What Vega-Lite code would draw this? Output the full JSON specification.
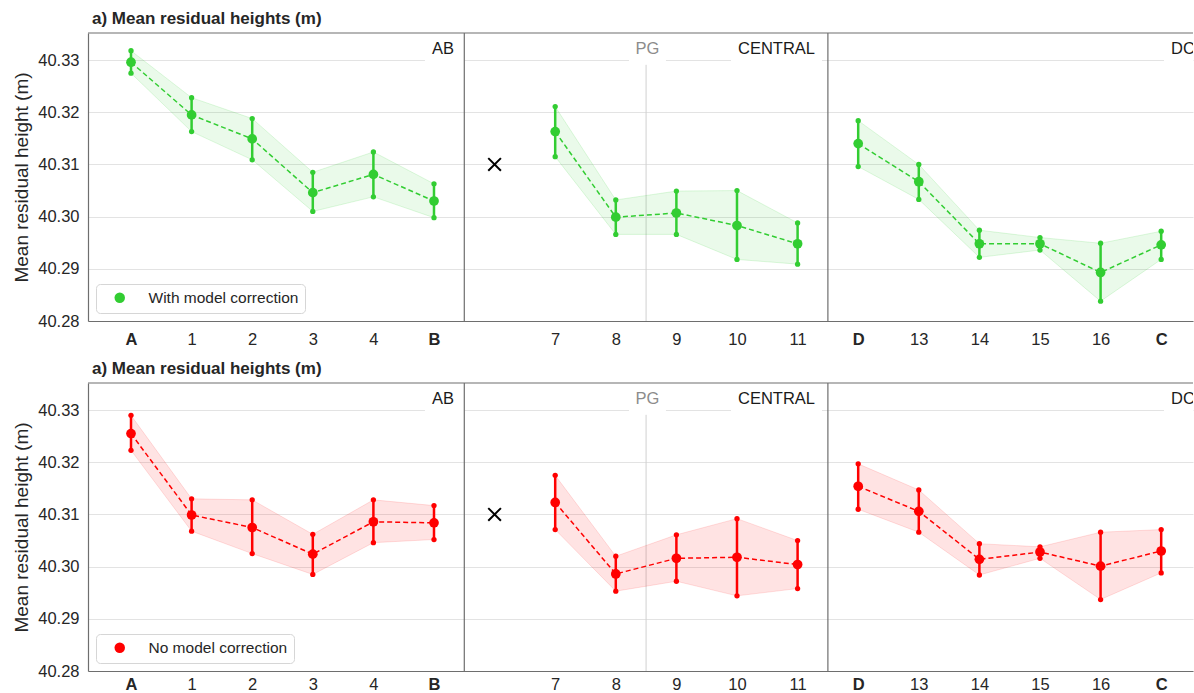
{
  "$schema": "https://vega.github.io/schema/vega-lite/v6.json",
  "autosize": {"type": "pad"},
  "padding": {"left": 12, "top": 10, "right": 0, "bottom": 0},
  "datasets": {
    "pts": [
      {"row": "top", "series": "With model correction", "pos": 0, "station": "A", "seg": "AB", "mean": 40.3296, "lo": 40.3275, "hi": 40.3318},
      {"row": "top", "series": "With model correction", "pos": 1, "station": "1", "seg": "AB", "mean": 40.3195, "lo": 40.3163, "hi": 40.3228},
      {"row": "top", "series": "With model correction", "pos": 2, "station": "2", "seg": "AB", "mean": 40.3149, "lo": 40.3109, "hi": 40.3188},
      {"row": "top", "series": "With model correction", "pos": 3, "station": "3", "seg": "AB", "mean": 40.3046, "lo": 40.3010, "hi": 40.3085},
      {"row": "top", "series": "With model correction", "pos": 4, "station": "4", "seg": "AB", "mean": 40.3081, "lo": 40.3038, "hi": 40.3124},
      {"row": "top", "series": "With model correction", "pos": 5, "station": "B", "seg": "AB", "mean": 40.3030, "lo": 40.2998, "hi": 40.3063},
      {"row": "top", "series": "With model correction", "pos": 7, "station": "7", "seg": "CENTRAL", "mean": 40.3163, "lo": 40.3115, "hi": 40.3211},
      {"row": "top", "series": "With model correction", "pos": 8, "station": "8", "seg": "CENTRAL", "mean": 40.2999, "lo": 40.2966, "hi": 40.3032},
      {"row": "top", "series": "With model correction", "pos": 9, "station": "9", "seg": "CENTRAL", "mean": 40.3007, "lo": 40.2966, "hi": 40.3049},
      {"row": "top", "series": "With model correction", "pos": 10, "station": "10", "seg": "CENTRAL", "mean": 40.2983, "lo": 40.2918, "hi": 40.3050},
      {"row": "top", "series": "With model correction", "pos": 11, "station": "11", "seg": "CENTRAL", "mean": 40.2948, "lo": 40.2909, "hi": 40.2988},
      {"row": "top", "series": "With model correction", "pos": 12, "station": "D", "seg": "DC", "mean": 40.3140, "lo": 40.3096, "hi": 40.3184},
      {"row": "top", "series": "With model correction", "pos": 13, "station": "13", "seg": "DC", "mean": 40.3067, "lo": 40.3033, "hi": 40.3100},
      {"row": "top", "series": "With model correction", "pos": 14, "station": "14", "seg": "DC", "mean": 40.2948, "lo": 40.2922, "hi": 40.2974},
      {"row": "top", "series": "With model correction", "pos": 15, "station": "15", "seg": "DC", "mean": 40.2948, "lo": 40.2936, "hi": 40.2960},
      {"row": "top", "series": "With model correction", "pos": 16, "station": "16", "seg": "DC", "mean": 40.2893, "lo": 40.2838, "hi": 40.2949},
      {"row": "top", "series": "With model correction", "pos": 17, "station": "C", "seg": "DC", "mean": 40.2946, "lo": 40.2918, "hi": 40.2972},
      {"row": "bottom", "series": "No model correction", "pos": 0, "station": "A", "seg": "AB", "mean": 40.3255, "lo": 40.3223, "hi": 40.3290},
      {"row": "bottom", "series": "No model correction", "pos": 1, "station": "1", "seg": "AB", "mean": 40.3099, "lo": 40.3068, "hi": 40.3130},
      {"row": "bottom", "series": "No model correction", "pos": 2, "station": "2", "seg": "AB", "mean": 40.3075, "lo": 40.3025, "hi": 40.3128},
      {"row": "bottom", "series": "No model correction", "pos": 3, "station": "3", "seg": "AB", "mean": 40.3024, "lo": 40.2985, "hi": 40.3062},
      {"row": "bottom", "series": "No model correction", "pos": 4, "station": "4", "seg": "AB", "mean": 40.3086, "lo": 40.3046, "hi": 40.3128},
      {"row": "bottom", "series": "No model correction", "pos": 5, "station": "B", "seg": "AB", "mean": 40.3084, "lo": 40.3052, "hi": 40.3117},
      {"row": "bottom", "series": "No model correction", "pos": 7, "station": "7", "seg": "CENTRAL", "mean": 40.3123, "lo": 40.3071, "hi": 40.3175},
      {"row": "bottom", "series": "No model correction", "pos": 8, "station": "8", "seg": "CENTRAL", "mean": 40.2986, "lo": 40.2953, "hi": 40.3020},
      {"row": "bottom", "series": "No model correction", "pos": 9, "station": "9", "seg": "CENTRAL", "mean": 40.3016, "lo": 40.2972, "hi": 40.3061},
      {"row": "bottom", "series": "No model correction", "pos": 10, "station": "10", "seg": "CENTRAL", "mean": 40.3018, "lo": 40.2944, "hi": 40.3092},
      {"row": "bottom", "series": "No model correction", "pos": 11, "station": "11", "seg": "CENTRAL", "mean": 40.3004, "lo": 40.2958, "hi": 40.3050},
      {"row": "bottom", "series": "No model correction", "pos": 12, "station": "D", "seg": "DC", "mean": 40.3154, "lo": 40.3110, "hi": 40.3197},
      {"row": "bottom", "series": "No model correction", "pos": 13, "station": "13", "seg": "DC", "mean": 40.3106, "lo": 40.3066, "hi": 40.3147},
      {"row": "bottom", "series": "No model correction", "pos": 14, "station": "14", "seg": "DC", "mean": 40.3014, "lo": 40.2984, "hi": 40.3044},
      {"row": "bottom", "series": "No model correction", "pos": 15, "station": "15", "seg": "DC", "mean": 40.3028, "lo": 40.3016, "hi": 40.3038},
      {"row": "bottom", "series": "No model correction", "pos": 16, "station": "16", "seg": "DC", "mean": 40.3001, "lo": 40.2937, "hi": 40.3066},
      {"row": "bottom", "series": "No model correction", "pos": 17, "station": "C", "seg": "DC", "mean": 40.3030, "lo": 40.2988, "hi": 40.3071}
    ],
    "ref": [{"pos": 6, "value": 40.31}]
  },
  "vconcat": [
    {
      "width": 1105,
      "height": 288,
      "title": {"text": "a) Mean residual heights (m)"},
      "data": {"name": "pts"},
      "transform": [{"filter": "datum.row === 'top'"}],
      "layer": [
        {"data": {"values": [{}]}, "mark": {"type": "rect", "fill": "white"}, "encoding": {"x": {"datum": 4.851, "type": "quantitative"}, "x2": {"datum": 5.5}, "y": {"datum": 40.3291, "type": "quantitative"}, "y2": {"datum": 40.3352}}},
        {"data": {"values": [{}]}, "mark": {"type": "rect", "fill": "white"}, "encoding": {"x": {"datum": 8.218, "type": "quantitative"}, "x2": {"datum": 8.828}, "y": {"datum": 40.3291, "type": "quantitative"}, "y2": {"datum": 40.3352}}},
        {"data": {"values": [{}]}, "mark": {"type": "rect", "fill": "white"}, "encoding": {"x": {"datum": 9.901, "type": "quantitative"}, "x2": {"datum": 11.403}, "y": {"datum": 40.3291, "type": "quantitative"}, "y2": {"datum": 40.3352}}},
        {"data": {"values": [{}]}, "mark": {"type": "rect", "fill": "white", "clip": true}, "encoding": {"x": {"datum": 17.046, "type": "quantitative"}, "x2": {"datum": 17.6}, "y": {"datum": 40.3291, "type": "quantitative"}, "y2": {"datum": 40.3352}}},
        {"data": {"values": [{}]}, "mark": {"type": "rule", "color": "#d0d0d0", "strokeWidth": 1}, "encoding": {"x": {"datum": 8.5, "type": "quantitative"}, "y": {"datum": 40.28, "type": "quantitative"}, "y2": {"datum": 40.3291}}},
        {
          "mark": {"type": "area", "color": "#32cd32", "fillOpacity": 0.1, "stroke": "#32cd32", "strokeOpacity": 0.15, "strokeWidth": 1},
          "encoding": {
            "x": {"field": "pos", "type": "quantitative", "scale": {"domain": [-0.7096, 17.525], "nice": false, "zero": false},
              "axis": {"values": [0, 1, 2, 3, 4, 5, 7, 8, 9, 10, 11, 12, 13, 14, 15, 16, 17], "labelExpr": "['A','1','2','3','4','B','','7','8','9','10','11','D','13','14','15','16','C'][datum.value]", "labelFontWeight": {"condition": {"test": "datum.value == 0 || datum.value == 5 || datum.value == 12 || datum.value == 17", "value": "bold"}, "value": "normal"}, "grid": false, "title": null, "labelFlush": false, "labelOverlap": false, "labelPadding": 10}},
            "y": {"field": "lo", "type": "quantitative", "scale": {"domain": [40.28, 40.3352], "nice": false, "zero": false},
              "axis": {"values": [40.28, 40.29, 40.3, 40.31, 40.32, 40.33], "format": ".2f", "title": "Mean residual height (m)", "grid": true, "labelPadding": 9, "titlePadding": 6}},
            "y2": {"field": "hi"},
            "detail": {"field": "seg"}
          }
        },
        {"mark": {"type": "line", "color": "#32cd32", "strokeDash": [5, 3], "strokeWidth": 1.5}, "encoding": {"x": {"field": "pos", "type": "quantitative"}, "y": {"field": "mean", "type": "quantitative"}, "detail": {"field": "seg"}}},
        {"mark": {"type": "rule", "color": "#32cd32", "strokeWidth": 2.5}, "encoding": {"x": {"field": "pos", "type": "quantitative"}, "y": {"field": "lo", "type": "quantitative"}, "y2": {"field": "hi"}}},
        {"mark": {"type": "point", "filled": true, "opacity": 1, "size": 28, "color": "#32cd32"}, "encoding": {"x": {"field": "pos", "type": "quantitative"}, "y": {"field": "lo", "type": "quantitative"}}},
        {"mark": {"type": "point", "filled": true, "opacity": 1, "size": 28, "color": "#32cd32"}, "encoding": {"x": {"field": "pos", "type": "quantitative"}, "y": {"field": "hi", "type": "quantitative"}}},
        {"mark": {"type": "point", "filled": true, "opacity": 1, "size": 95}, "encoding": {"x": {"field": "pos", "type": "quantitative"}, "y": {"field": "mean", "type": "quantitative"}, "color": {"field": "series", "type": "nominal", "scale": {"domain": ["With model correction"], "range": ["#32cd32"]}, "legend": {"title": null}}}},
        {"data": {"name": "ref"}, "mark": {"type": "point", "shape": "M-1,-1L1,1M-1,1L1,-1", "filled": false, "stroke": "black", "strokeWidth": 2, "size": 160, "opacity": 1}, "encoding": {"x": {"field": "pos", "type": "quantitative"}, "y": {"field": "value", "type": "quantitative"}}},
        {"data": {"values": [{}]}, "mark": {"type": "rule", "color": "#6e6e6e", "strokeWidth": 1.2}, "encoding": {"x": {"datum": 5.5, "type": "quantitative"}}},
        {"data": {"values": [{}]}, "mark": {"type": "rule", "color": "#6e6e6e", "strokeWidth": 1.2}, "encoding": {"x": {"datum": 11.5, "type": "quantitative"}}},
        {"data": {"values": [{}]}, "mark": {"type": "rule", "color": "#6e6e6e", "strokeWidth": 1.2}, "encoding": {"y": {"datum": 40.3352, "type": "quantitative"}}},
        {"data": {"values": [{}]}, "mark": {"type": "text", "text": "AB", "align": "right", "baseline": "middle", "fontSize": 16.5, "color": "#1a1a1a"}, "encoding": {"x": {"datum": 5.33, "type": "quantitative"}, "y": {"datum": 40.3321, "type": "quantitative"}}},
        {"data": {"values": [{}]}, "mark": {"type": "text", "text": "PG", "align": "center", "baseline": "middle", "fontSize": 16.5, "color": "#8c8c8c"}, "encoding": {"x": {"datum": 8.52, "type": "quantitative"}, "y": {"datum": 40.3321, "type": "quantitative"}}},
        {"data": {"values": [{}]}, "mark": {"type": "text", "text": "CENTRAL", "align": "right", "baseline": "middle", "fontSize": 16.5, "color": "#1a1a1a"}, "encoding": {"x": {"datum": 11.287, "type": "quantitative"}, "y": {"datum": 40.3321, "type": "quantitative"}}},
        {"data": {"values": [{}]}, "mark": {"type": "text", "text": "DC", "align": "left", "baseline": "middle", "fontSize": 16.5, "color": "#1a1a1a", "clip": true}, "encoding": {"x": {"datum": 17.162, "type": "quantitative"}, "y": {"datum": 40.3321, "type": "quantitative"}}}
      ]
    },
    {
      "width": 1105,
      "height": 288,
      "title": {"text": "a) Mean residual heights (m)"},
      "data": {"name": "pts"},
      "transform": [{"filter": "datum.row === 'bottom'"}],
      "layer": [
        {"data": {"values": [{}]}, "mark": {"type": "rect", "fill": "white"}, "encoding": {"x": {"datum": 4.851, "type": "quantitative"}, "x2": {"datum": 5.5}, "y": {"datum": 40.3291, "type": "quantitative"}, "y2": {"datum": 40.3352}}},
        {"data": {"values": [{}]}, "mark": {"type": "rect", "fill": "white"}, "encoding": {"x": {"datum": 8.218, "type": "quantitative"}, "x2": {"datum": 8.828}, "y": {"datum": 40.3291, "type": "quantitative"}, "y2": {"datum": 40.3352}}},
        {"data": {"values": [{}]}, "mark": {"type": "rect", "fill": "white"}, "encoding": {"x": {"datum": 9.901, "type": "quantitative"}, "x2": {"datum": 11.403}, "y": {"datum": 40.3291, "type": "quantitative"}, "y2": {"datum": 40.3352}}},
        {"data": {"values": [{}]}, "mark": {"type": "rect", "fill": "white", "clip": true}, "encoding": {"x": {"datum": 17.046, "type": "quantitative"}, "x2": {"datum": 17.6}, "y": {"datum": 40.3291, "type": "quantitative"}, "y2": {"datum": 40.3352}}},
        {"data": {"values": [{}]}, "mark": {"type": "rule", "color": "#d0d0d0", "strokeWidth": 1}, "encoding": {"x": {"datum": 8.5, "type": "quantitative"}, "y": {"datum": 40.28, "type": "quantitative"}, "y2": {"datum": 40.3291}}},
        {
          "mark": {"type": "area", "color": "#ff0000", "fillOpacity": 0.11, "stroke": "#ff0000", "strokeOpacity": 0.12, "strokeWidth": 1},
          "encoding": {
            "x": {"field": "pos", "type": "quantitative", "scale": {"domain": [-0.7096, 17.525], "nice": false, "zero": false},
              "axis": {"values": [0, 1, 2, 3, 4, 5, 7, 8, 9, 10, 11, 12, 13, 14, 15, 16, 17], "labelExpr": "['A','1','2','3','4','B','','7','8','9','10','11','D','13','14','15','16','C'][datum.value]", "labelFontWeight": {"condition": {"test": "datum.value == 0 || datum.value == 5 || datum.value == 12 || datum.value == 17", "value": "bold"}, "value": "normal"}, "grid": false, "title": null, "labelFlush": false, "labelOverlap": false, "labelPadding": 5}},
            "y": {"field": "lo", "type": "quantitative", "scale": {"domain": [40.28, 40.3352], "nice": false, "zero": false},
              "axis": {"values": [40.28, 40.29, 40.3, 40.31, 40.32, 40.33], "format": ".2f", "title": "Mean residual height (m)", "grid": true, "labelPadding": 9, "titlePadding": 6}},
            "y2": {"field": "hi"},
            "detail": {"field": "seg"}
          }
        },
        {"mark": {"type": "line", "color": "#ff0000", "strokeDash": [5, 3], "strokeWidth": 1.5}, "encoding": {"x": {"field": "pos", "type": "quantitative"}, "y": {"field": "mean", "type": "quantitative"}, "detail": {"field": "seg"}}},
        {"mark": {"type": "rule", "color": "#ff0000", "strokeWidth": 2.5}, "encoding": {"x": {"field": "pos", "type": "quantitative"}, "y": {"field": "lo", "type": "quantitative"}, "y2": {"field": "hi"}}},
        {"mark": {"type": "point", "filled": true, "opacity": 1, "size": 28, "color": "#ff0000"}, "encoding": {"x": {"field": "pos", "type": "quantitative"}, "y": {"field": "lo", "type": "quantitative"}}},
        {"mark": {"type": "point", "filled": true, "opacity": 1, "size": 28, "color": "#ff0000"}, "encoding": {"x": {"field": "pos", "type": "quantitative"}, "y": {"field": "hi", "type": "quantitative"}}},
        {"mark": {"type": "point", "filled": true, "opacity": 1, "size": 95}, "encoding": {"x": {"field": "pos", "type": "quantitative"}, "y": {"field": "mean", "type": "quantitative"}, "color": {"field": "series", "type": "nominal", "scale": {"domain": ["No model correction"], "range": ["#ff0000"]}, "legend": {"title": null}}}},
        {"data": {"name": "ref"}, "mark": {"type": "point", "shape": "M-1,-1L1,1M-1,1L1,-1", "filled": false, "stroke": "black", "strokeWidth": 2, "size": 160, "opacity": 1}, "encoding": {"x": {"field": "pos", "type": "quantitative"}, "y": {"field": "value", "type": "quantitative"}}},
        {"data": {"values": [{}]}, "mark": {"type": "rule", "color": "#6e6e6e", "strokeWidth": 1.2}, "encoding": {"x": {"datum": 5.5, "type": "quantitative"}}},
        {"data": {"values": [{}]}, "mark": {"type": "rule", "color": "#6e6e6e", "strokeWidth": 1.2}, "encoding": {"x": {"datum": 11.5, "type": "quantitative"}}},
        {"data": {"values": [{}]}, "mark": {"type": "rule", "color": "#6e6e6e", "strokeWidth": 1.2}, "encoding": {"y": {"datum": 40.3352, "type": "quantitative"}}},
        {"data": {"values": [{}]}, "mark": {"type": "text", "text": "AB", "align": "right", "baseline": "middle", "fontSize": 16.5, "color": "#1a1a1a"}, "encoding": {"x": {"datum": 5.33, "type": "quantitative"}, "y": {"datum": 40.3321, "type": "quantitative"}}},
        {"data": {"values": [{}]}, "mark": {"type": "text", "text": "PG", "align": "center", "baseline": "middle", "fontSize": 16.5, "color": "#8c8c8c"}, "encoding": {"x": {"datum": 8.52, "type": "quantitative"}, "y": {"datum": 40.3321, "type": "quantitative"}}},
        {"data": {"values": [{}]}, "mark": {"type": "text", "text": "CENTRAL", "align": "right", "baseline": "middle", "fontSize": 16.5, "color": "#1a1a1a"}, "encoding": {"x": {"datum": 11.287, "type": "quantitative"}, "y": {"datum": 40.3321, "type": "quantitative"}}},
        {"data": {"values": [{}]}, "mark": {"type": "text", "text": "DC", "align": "left", "baseline": "middle", "fontSize": 16.5, "color": "#1a1a1a", "clip": true}, "encoding": {"x": {"datum": 17.162, "type": "quantitative"}, "y": {"datum": 40.3321, "type": "quantitative"}}}
      ]
    }
  ],
  "spacing": 62,
  "bounds": "flush",
  "resolve": {"scale": {"x": "independent", "y": "independent", "color": "independent"}, "legend": {"color": "independent"}},
  "config": {
    "font": "Liberation Sans",
    "view": {"stroke": null},
    "axis": {"labelFont": "Liberation Sans", "labelColor": "#262626", "labelFontSize": 16.5, "ticks": false, "tickSize": 0, "domain": true, "domainColor": "#6e6e6e", "domainWidth": 1.2, "gridColor": "#e3e3e3", "gridWidth": 1, "titleFont": "Liberation Sans", "titleFontWeight": "normal", "titleColor": "#262626", "titleFontSize": 19},
    "title": {"anchor": "start", "frame": "group", "fontSize": 17, "fontWeight": "bold", "color": "#262626", "offset": 4, "dx": 4, "font": "Liberation Sans"},
    "legend": {"orient": "bottom-left", "offset": 8, "fillColor": "white", "strokeColor": "#d6d6d6", "cornerRadius": 4, "padding": 6, "labelFontSize": 15.5, "labelColor": "#262626", "labelFont": "Liberation Sans", "symbolSize": 110, "symbolType": "circle", "symbolOffset": 10, "labelOffset": 21, "symbolStrokeWidth": 0}
  }
}
